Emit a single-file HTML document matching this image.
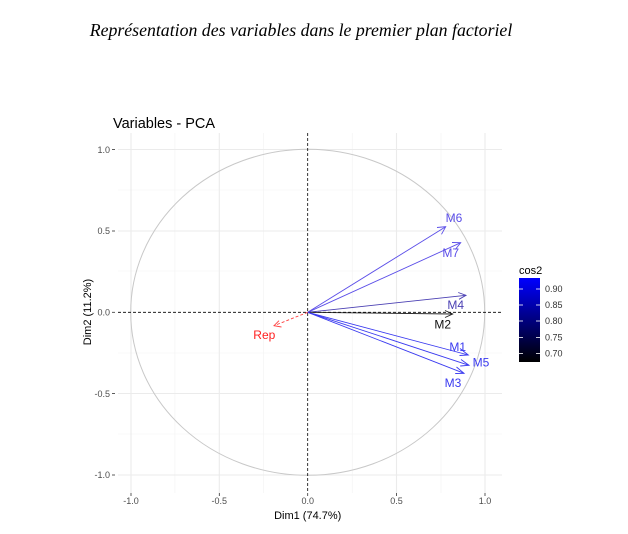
<!DOCTYPE html>
<html><head><style>body{margin:0;background:#fff}</style></head><body>
<svg width="628" height="529" xmlns="http://www.w3.org/2000/svg" font-family="Liberation Sans, sans-serif">
<defs>
<linearGradient id="g" x1="0" y1="1" x2="0" y2="0"><stop offset="0" stop-color="#000"/><stop offset="1" stop-color="#0000ff"/></linearGradient>
</defs>
<text x="301" y="36" font-family="Liberation Serif, serif" font-style="italic" font-size="17.8" text-anchor="middle">Représentation des variables dans le premier plan factoriel</text>
<text x="113" y="128" font-size="14.5" fill="#000">Variables - PCA</text>
<g stroke="#f2f2f2" stroke-width="0.6">
<line x1="174.9" y1="133" x2="174.9" y2="493"/><line x1="263.4" y1="133" x2="263.4" y2="493"/><line x1="352.2" y1="133" x2="352.2" y2="493"/><line x1="441" y1="133" x2="441" y2="493"/>
<line x1="118" y1="190" x2="502" y2="190"/><line x1="118" y1="271" x2="502" y2="271"/><line x1="118" y1="353" x2="502" y2="353"/><line x1="118" y1="434" x2="502" y2="434"/>
</g>
<g stroke="#ebebeb" stroke-width="1.1">
<line x1="131" y1="133" x2="131" y2="493"/><line x1="219.3" y1="133" x2="219.3" y2="493"/><line x1="396.5" y1="133" x2="396.5" y2="493"/><line x1="485" y1="133" x2="485" y2="493"/>
<line x1="118" y1="149.5" x2="502" y2="149.5"/><line x1="118" y1="231" x2="502" y2="231"/><line x1="118" y1="393.5" x2="502" y2="393.5"/><line x1="118" y1="475" x2="502" y2="475"/>
</g>
<ellipse cx="307.7" cy="312.3" rx="177" ry="163" fill="none" stroke="#c8c8c8" stroke-width="1"/>
<line x1="307.7" y1="133" x2="307.7" y2="493" stroke="#000" stroke-dasharray="3,2" stroke-width="0.8"/>
<line x1="118" y1="312.3" x2="502" y2="312.3" stroke="#000" stroke-dasharray="3,2" stroke-width="0.8"/>
<g fill="none" stroke-width="0.9">
<g stroke="#5b4ee8"><line x1="307.7" y1="312.3" x2="445.7" y2="226.7"/><polyline points="437,227.5 445.7,226.7 441.5,234.3"/>
<line x1="307.7" y1="312.3" x2="460.7" y2="242.7"/><polyline points="452,242.5 460.7,242.7 455.3,249.5"/></g>
<g stroke="#4b40b3"><line x1="307.7" y1="312.3" x2="466" y2="295.3"/><polyline points="458.2,292.5 466,295.3 459,299.3"/></g>
<g stroke="#222"><line x1="307.7" y1="312.3" x2="452.7" y2="314"/><polyline points="445,310.5 452.7,314 445,317.5"/></g>
<g stroke="#3a3af0"><line x1="307.7" y1="312.3" x2="468.3" y2="355"/><polyline points="460,348.5 468.3,355 459.5,355.5"/>
<line x1="307.7" y1="312.3" x2="469" y2="365.3"/><polyline points="461,359.5 469,365.3 460.2,366"/>
<line x1="307.7" y1="312.3" x2="464" y2="373.3"/><polyline points="456.5,367 464,373.3 455.2,373.5"/></g>
<g stroke="#ff4040" stroke-dasharray="3,2"><line x1="307.7" y1="312.3" x2="274" y2="325.7"/><polyline points="281.5,327 274,325.7 279,320.7" stroke-dasharray="none"/></g>
</g>
<g font-size="12" text-anchor="middle" dominant-baseline="central">
<text x="454" y="218" fill="#5b4ee8">M6</text>
<text x="450.7" y="253" fill="#5b4ee8">M7</text>
<text x="455.7" y="305" fill="#4b40b3">M4</text>
<text x="442.7" y="324.5" fill="#111">M2</text>
<text x="457.7" y="347" fill="#3a3af0">M1</text>
<text x="481" y="362.5" fill="#3a3af0">M5</text>
<text x="453" y="383" fill="#3a3af0">M3</text>
<text x="264.3" y="335" fill="#ff2020">Rep</text>
</g>
<g font-size="9" fill="#4d4d4d" text-anchor="end">
<text x="110" y="153">1.0</text><text x="110" y="234">0.5</text><text x="110" y="315.5">0.0</text><text x="110" y="397">-0.5</text><text x="110" y="478">-1.0</text>
</g>
<g stroke="#333" stroke-width="0.8"><line x1="112" y1="149.5" x2="115" y2="149.5"/><line x1="112" y1="231" x2="115" y2="231"/><line x1="112" y1="312.3" x2="115" y2="312.3"/><line x1="112" y1="393.5" x2="115" y2="393.5"/><line x1="112" y1="475" x2="115" y2="475"/>
<line x1="131" y1="493" x2="131" y2="496"/><line x1="219.3" y1="493" x2="219.3" y2="496"/><line x1="307.7" y1="493" x2="307.7" y2="496"/><line x1="396.5" y1="493" x2="396.5" y2="496"/><line x1="485" y1="493" x2="485" y2="496"/></g>
<g font-size="9" fill="#4d4d4d" text-anchor="middle">
<text x="131" y="504">-1.0</text><text x="219.3" y="504">-0.5</text><text x="307.7" y="504">0.0</text><text x="396.5" y="504">0.5</text><text x="485" y="504">1.0</text>
</g>
<text x="307.7" y="519" font-size="11" text-anchor="middle">Dim1 (74.7%)</text>
<text transform="translate(91,312) rotate(-90)" font-size="11" text-anchor="middle">Dim2 (11.2%)</text>
<text x="519" y="274" font-size="11">cos2</text>
<rect x="519" y="278" width="21" height="84" fill="url(#g)"/>
<g stroke="#fff" stroke-width="0.8"><line x1="519" y1="289" x2="523" y2="289"/><line x1="536" y1="289" x2="540" y2="289"/><line x1="519" y1="305" x2="523" y2="305"/><line x1="536" y1="305" x2="540" y2="305"/><line x1="519" y1="321" x2="523" y2="321"/><line x1="536" y1="321" x2="540" y2="321"/><line x1="519" y1="337.5" x2="523" y2="337.5"/><line x1="536" y1="337.5" x2="540" y2="337.5"/><line x1="519" y1="353.5" x2="523" y2="353.5"/><line x1="536" y1="353.5" x2="540" y2="353.5"/></g>
<g font-size="9" fill="#333"><text x="545" y="292">0.90</text><text x="545" y="308">0.85</text><text x="545" y="324">0.80</text><text x="545" y="340.5">0.75</text><text x="545" y="356.5">0.70</text></g>
</svg>
</body></html>
